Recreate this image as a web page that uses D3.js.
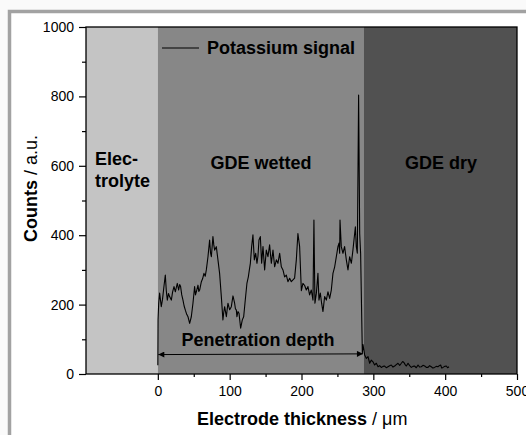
<!DOCTYPE html>
<html>
<head>
<meta charset="utf-8">
<script src="https://cdn.jsdelivr.net/npm/d3@7"></script>
<style>
  body { margin: 0; background: #fff; }
  svg { display: block; font-family: "Liberation Sans", Arial, sans-serif; }
</style>
</head>
<body>
<svg id="chart" width="526" height="435"></svg>
<script>

// Data ////////////////////////////////////////

const bandNames = ["Electrolyte", "GDE wetted", "GDE dry"];
const bandStart = [-100, 0, 287];
const bandEnd   = [0, 287, 500];

const xTicks = [0, 100, 200, 300, 400, 500];
const xMinorTicks = [50, 150, 250, 350, 450];
const yTicks = [0, 200, 400, 600, 800, 1000];
const yMinorTicks = [100, 300, 500, 700, 900];

// potassium signal (µm, counts)
const signalX = [
    0, 0.3, 1.2, 2.5, 4.8, 6.5, 8.5, 10.4, 11.8, 13.2, 14.8, 16.4, 18.8, 20.5, 22.5, 24.4, 25.8,
    27.1, 29, 30.4, 31.7, 33.3, 35, 36.6, 38.3, 40.2, 42, 44.3, 46.6, 48.9, 51.2, 52.4, 53.6,
    55.9, 57, 58.2, 60.6, 62.4, 64.2, 66, 67.5, 69.8, 72.1, 73.3, 74.5, 76.7, 77.9, 79.1, 81.4,
    83.7, 86, 88.4, 90.6, 91.8, 93, 95.4, 96.5, 97.6, 100, 102.3, 104.6, 106.9, 108, 109.3,
    110.1, 111.5, 113, 115.3, 117.6, 119.5, 121.3, 124, 126, 127.4, 128.8, 130.6, 132.4, 134.3,
    136.2, 138, 139.4, 140.8, 142.7, 144.5, 146.4, 148.7, 151, 153.3, 155.6, 158, 160.3, 162.6,
    165, 167.2, 169.6, 171.9, 174.2, 176.5, 178.9, 181.1, 183.5, 185.8, 188.1, 190.4, 192.8,
    195, 197.4, 199.8, 202, 204.4, 206.7, 209, 211.3, 213.6, 216, 217.3, 218.7, 220.7, 222.9,
    224.3, 226.2, 228, 229.9, 232.2, 234.6, 236.8, 239.2, 241.5, 243.8, 246.2, 248.5, 250.7,
    252.2, 253.1, 253.6, 255.4, 257.7, 260, 262.4, 264.7, 267, 269.4, 271.6, 274, 275, 276.3,
    277.7, 279.5, 281, 282.3, 284.7, 285.6, 287.9, 290.3, 292.6, 294.9, 297.2, 299.5, 301.8,
    304.2, 306.5, 308.8, 311.1, 313.5, 315.8, 318, 320.4, 322.7, 325, 327.4, 329.7, 332,
    334.3, 336.7, 339, 340.8, 342.6, 344.3, 346, 348.3, 350.6, 352.9, 355.2, 357.5, 359.8,
    362.2, 364.5, 366.8, 369.1, 371.5, 373.8, 376.1, 378.4, 380.7, 383, 385.3, 387.6, 390,
    391.8, 393.7, 395.3, 397, 399.3, 401.6, 403.4, 405.3
];
const signalY = [
    25, 156, 204, 233, 194, 215, 252, 285, 240, 213, 232, 223, 213, 236, 252, 237, 250,
    261, 242, 258, 252, 228, 213, 196, 184, 172, 165, 146, 165, 204, 252, 228, 237,
    256, 238, 242, 266, 275, 290, 282, 300, 338, 386, 350, 338, 396, 372, 357, 367,
    329, 290, 223, 156, 178, 194, 165, 186, 204, 185, 194, 225, 204, 188, 184,
    165, 180, 175, 132, 156, 165, 204, 261, 280, 300, 319, 367, 401, 329,
    348, 319, 340, 386, 396, 319, 367, 300, 357, 338, 372, 319, 357, 309,
    329, 319, 348, 309, 300, 280, 285, 266, 276, 266, 271, 276, 329,
    405, 367, 240, 261, 255, 242, 252, 228, 242, 213, 444, 204, 233, 290,
    213, 233, 204, 180, 223, 213, 237, 218, 242, 290, 309, 338, 367,
    377, 348, 444, 367, 348, 367, 329, 300, 338, 319, 357, 405, 424, 367,
    348, 804, 405, 348, 60, 85, 55, 45, 50, 31, 40, 35, 26,
    31, 21, 24, 19, 22, 23, 18, 21, 24, 26, 20, 23, 27,
    31, 25, 31, 36, 33, 27, 23, 31, 24, 19, 22, 23, 18,
    26, 20, 21, 25, 23, 19, 19, 24, 21, 17, 19, 22, 21,
    24, 26, 17, 19, 22, 23, 18, 21
];

const signal = signalX.map((x, i) => ({ x: x, y: signalY[i] }));

// Layout //////////////////////////////////////

const dim = { width: 526, height: 435, left: 86, right: 517, top: 27, bottom: 374 };
const bandColors = ["#c4c4c4", "#878787", "#515151"];
const font = "\"Liberation Sans\", Arial, sans-serif";

const svg = d3.select("#chart");

// panel frame (cropped box)
svg.append("rect")
    .attr("width", dim.width).attr("height", dim.height)
    .attr("fill", "#fafafa");
svg.append("rect")
    .attr("x", 9.5).attr("y", 11.5)
    .attr("width", dim.width + 20).attr("height", dim.height + 20)
    .attr("fill", "#fff")
    .attr("stroke", "#a2a2a2")
    .attr("stroke-width", 3.5);

const x = d3.scaleLinear().domain([-100, 500]).range([dim.left, dim.right]);
const y = d3.scaleLinear().domain([0, 1000]).range([dim.bottom, dim.top]);

// Bands ///////////////////////////////////////

svg.append("g").attr("class", "bands")
    .selectAll("rect")
    .data(bandNames)
    .join("rect")
    .attr("x", (d, i) => x(bandStart[i]))
    .attr("y", y(1000))
    .attr("width", (d, i) => x(bandEnd[i]) - x(bandStart[i]))
    .attr("height", y(0) - y(1000))
    .attr("fill", (d, i) => bandColors[i]);

// Signal //////////////////////////////////////

const line = d3.line().x(d => x(d.x)).y(d => y(d.y));

svg.append("path")
    .datum(signal)
    .attr("d", line)
    .attr("fill", "none")
    .attr("stroke", "#000")
    .attr("stroke-width", 1.1)
    .attr("stroke-linejoin", "round");

// Penetration depth arrow /////////////////////

const defs = svg.append("defs");
defs.append("marker")
    .attr("id", "arrowhead")
    .attr("viewBox", "0 0 10 10")
    .attr("refX", 10).attr("refY", 5)
    .attr("markerWidth", 9).attr("markerHeight", 6)
    .attr("markerUnits", "userSpaceOnUse")
    .attr("orient", "auto-start-reverse")
    .append("path")
    .attr("d", "M0,0 L10,5 L0,10 z")
    .attr("fill", "#000");

svg.append("line")
    .attr("x1", x(0) + 0.5).attr("x2", x(285.5))
    .attr("y1", y(56)).attr("y2", y(58))
    .attr("stroke", "#000")
    .attr("stroke-width", 1)
    .attr("marker-start", "url(#arrowhead)")
    .attr("marker-end", "url(#arrowhead)");

// Text labels /////////////////////////////////

const labels = svg.append("g")
    .attr("font-family", font)
    .attr("font-weight", "bold")
    .attr("font-size", 18)
    .attr("fill", "#000");

labels.append("text").attr("x", 95).attr("y", 165).text("Elec-");
labels.append("text").attr("x", 95).attr("y", 187).text("trolyte");
labels.append("text").attr("x", 261).attr("y", 169).attr("text-anchor", "middle").text("GDE wetted");
labels.append("text").attr("x", 441).attr("y", 169).attr("text-anchor", "middle").text("GDE dry");
labels.append("text").attr("x", 258).attr("y", 346).attr("text-anchor", "middle").text("Penetration depth");

// legend
svg.append("line")
    .attr("x1", 162).attr("x2", 199)
    .attr("y1", 48).attr("y2", 48)
    .attr("stroke", "#000").attr("stroke-width", 1.2);
labels.append("text").attr("x", 207).attr("y", 54).text("Potassium signal");

// Axes ////////////////////////////////////////

svg.append("g")
    .attr("transform", `translate(${dim.left},0)`)
    .call(d3.axisLeft(y).tickValues(yTicks).tickFormat(d3.format("d"))
        .tickSize(7).tickPadding(5).tickSizeOuter(0));
svg.append("g")
    .attr("transform", `translate(${dim.left},0)`)
    .call(d3.axisLeft(y).tickValues(yMinorTicks).tickSize(4).tickFormat("").tickSizeOuter(0));

svg.append("g")
    .attr("transform", `translate(0,${dim.bottom})`)
    .call(d3.axisBottom(x).tickValues(xTicks).tickFormat(d3.format("d"))
        .tickSize(6).tickPadding(6).tickSizeOuter(0));
svg.append("g")
    .attr("transform", `translate(0,${dim.bottom})`)
    .call(d3.axisBottom(x).tickValues(xMinorTicks).tickSize(3).tickFormat("").tickSizeOuter(0));

svg.selectAll(".tick text")
    .attr("font-family", font)
    .attr("font-size", 14)
    .attr("fill", "#000");
svg.selectAll(".tick line").attr("stroke", "#000").attr("stroke-width", 1.2);
svg.selectAll(".domain").remove();

// plot box
svg.append("rect")
    .attr("x", dim.left).attr("y", dim.top)
    .attr("width", dim.right - dim.left)
    .attr("height", dim.bottom - dim.top)
    .attr("fill", "none")
    .attr("stroke", "#000")
    .attr("stroke-width", 1.3);

// Axis titles /////////////////////////////////

const xTitle = svg.append("text")
    .attr("x", 197).attr("y", 425)
    .attr("font-family", font).attr("font-size", 18).attr("fill", "#000");
xTitle.append("tspan").attr("font-weight", "bold").text("Electrode thickness");
xTitle.append("tspan").text(" / μm");

const yTitle = svg.append("text")
    .attr("transform", "translate(37,242) rotate(-90)")
    .attr("font-family", font).attr("font-size", 18).attr("fill", "#000");
yTitle.append("tspan").attr("font-weight", "bold").text("Counts");
yTitle.append("tspan").text(" / a.u.");

</script>
</body>
</html>
